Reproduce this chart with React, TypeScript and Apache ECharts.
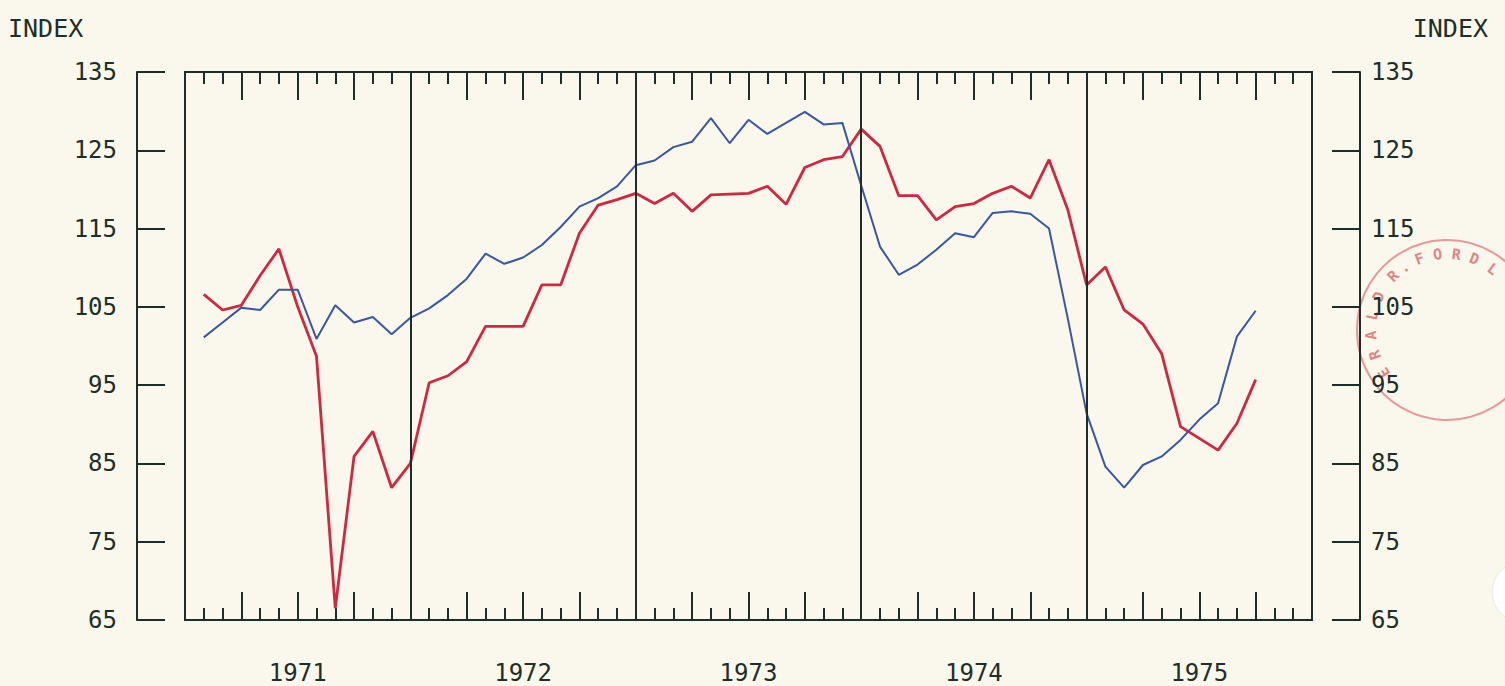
import React, { useEffect, useRef } from "react";
import * as echarts from "echarts";

// Month index (end of month, 1 = Jan 1971 … 57 = Sep 1975)
const monthIndex = Array.from({ length: 57 }, (_, i) => i + 1);

const redSeries = [
  106.6, 104.6, 105.2, 109.0, 112.4, 105.0, 98.7, 66.5, 85.9, 89.1, 81.9, 85.0,
  95.3, 96.2, 98.0, 102.5, 102.5, 102.5, 107.8, 107.8, 114.4, 118.0, 118.7, 119.5,
  118.2, 119.5, 117.2, 119.3, 119.4, 119.5, 120.4, 118.1, 122.8, 123.8, 124.2, 127.7,
  125.5, 119.2, 119.2, 116.1, 117.8, 118.2, 119.5, 120.4, 118.9, 123.8, 117.4, 107.8,
  110.1, 104.6, 102.8, 99.0, 89.7, 88.2, 86.7, 90.1, 95.7,
];

const blueSeries = [
  101.1, 103.0, 104.9, 104.6, 107.2, 107.2, 100.9, 105.2, 103.0, 103.7, 101.5, 103.6,
  104.8, 106.5, 108.6, 111.8, 110.5, 111.3, 112.9, 115.2, 117.8, 118.9, 120.4, 123.1,
  123.7, 125.4, 126.1, 129.1, 125.9, 128.9, 127.1, 128.5, 129.9, 128.3, 128.5, 120.5,
  112.7, 109.1, 110.4, 112.3, 114.4, 113.9, 117.0, 117.2, 116.9, 115.0, 103.5, 91.4,
  84.6, 81.9, 84.8, 85.9, 88.0, 90.6, 92.7, 101.2, 104.5,
];

const yearLabels = ["1971", "1972", "1973", "1974", "1975"];
const yearLabelPositions = [6, 18, 30, 42, 54];
const yearBoundaries = [12, 24, 36, 48];
const yTicks = [65, 75, 85, 95, 105, 115, 125, 135];
// Visible part of the archive stamp
const stampText = "ERALD R. FORD L";
const stampAngles = [236, 251, 266, 281, 296, 306, 315, 326, 332, 339, 353, 367, 381, 392, 37];

const BG = "#faf8ec";
const AXIS = "#1c2d2a";
const TEXT = "#1e2e2b";
const RED = "#d3263f";
const BLUE = "#3b55a6";
const FONT = "DejaVu Sans Mono";

export default function App() {
  const ref = useRef<HTMLDivElement>(null);

  useEffect(() => {
    if (!ref.current) return;
    const chart = echarts.init(ref.current, null, { renderer: "svg" });

    const tickStyle = { color: AXIS, width: 2 };
    const xAxisBase = {
      type: "value",
      min: 0,
      max: 60,
      interval: 3,
      axisLine: { show: true, onZero: false, lineStyle: tickStyle },
      axisTick: { show: true, inside: true, length: 28, lineStyle: tickStyle },
      minorTick: { show: true, splitNumber: 3, length: 12, lineStyle: tickStyle },
      splitLine: { show: false },
    };

    const yAxisBase = {
      type: "value",
      min: 65,
      max: 135,
      offset: 48,
      axisLine: { show: true, onZero: false, lineStyle: tickStyle },
      axisTick: { show: true, inside: true, length: 28, customValues: yTicks, lineStyle: tickStyle },
      splitLine: { show: false },
    };

    const cx = 1447;
    const cy = 330;
    const stampLetters = stampText.split("").map((ch, i) => {
      const a = (stampAngles[i] * Math.PI) / 180;
      return {
        type: "text",
        x: cx + 76 * Math.sin(a),
        y: cy - 76 * Math.cos(a),
        rotation: -a,
        style: {
          text: ch,
          fill: "rgba(222,90,100,0.75)",
          font: `bold 15px ${FONT}`,
          align: "center",
          verticalAlign: "middle",
        },
        silent: true,
      };
    });

    chart.setOption({
      animation: false,
      backgroundColor: BG,
      grid: {
        left: 185,
        right: 193,
        top: 72,
        bottom: 66,
        show: true,
        borderColor: AXIS,
        borderWidth: 2,
        backgroundColor: "transparent",
      },
      xAxis: [
        {
          ...xAxisBase,
          position: "bottom",
          axisLabel: {
            show: true,
            customValues: yearLabelPositions,
            formatter: (v: number) => yearLabels[yearLabelPositions.indexOf(v)] ?? "",
            margin: 41,
            fontSize: 24,
            lineHeight: 24,
            fontFamily: FONT,
            color: TEXT,
          },
        },
        {
          ...xAxisBase,
          position: "top",
          axisLabel: { show: false },
        },
      ],
      yAxis: [
        {
          ...yAxisBase,
          position: "left",
          axisLabel: {
            customValues: yTicks,
            margin: 20,
            fontSize: 24,
            fontFamily: FONT,
            color: TEXT,
          },
        },
        {
          ...yAxisBase,
          position: "right",
          axisLabel: {
            customValues: yTicks,
            margin: 11,
            fontSize: 24,
            fontFamily: FONT,
            color: TEXT,
          },
        },
      ],
      series: [
        {
          type: "line",
          name: "red",
          data: monthIndex.map((m, i) => [m, redSeries[i]]),
          showSymbol: false,
          lineStyle: { color: RED, width: 2.8 },
          itemStyle: { color: RED },
          emphasis: { disabled: true },
          z: 3,
          markLine: {
            silent: true,
            symbol: "none",
            label: { show: false },
            emphasis: { disabled: true },
            lineStyle: { color: AXIS, width: 2, type: "solid" },
            data: yearBoundaries.map((x) => ({ xAxis: x })),
          },
        },
        {
          type: "line",
          name: "blue",
          data: monthIndex.map((m, i) => [m, blueSeries[i]]),
          showSymbol: false,
          lineStyle: { color: BLUE, width: 2 },
          itemStyle: { color: BLUE },
          emphasis: { disabled: true },
          z: 4,
        },
      ],
      graphic: [
        {
          type: "circle",
          shape: { cx, cy, r: 90 },
          style: { fill: "none", stroke: "rgba(226,110,118,0.7)", lineWidth: 2 },
          silent: true,
          z: -1,
        },
        ...stampLetters,
        {
          type: "circle",
          shape: { cx: 1522, cy: 592, r: 30 },
          style: { fill: "#ffffff", stroke: "#e8e8e2", lineWidth: 1 },
          silent: true,
        },
        {
          type: "text",
          x: 8,
          y: 28,
          style: {
            text: "INDEX",
            font: `25px ${FONT}`,
            fill: TEXT,
            align: "left",
            verticalAlign: "middle",
          },
        },
        {
          type: "text",
          x: 1488,
          y: 28,
          style: {
            text: "INDEX",
            font: `25px ${FONT}`,
            fill: TEXT,
            align: "right",
            verticalAlign: "middle",
          },
        },
      ],
    });

    return () => {
      chart.dispose();
    };
  }, []);

  return (
    <div
      ref={ref}
      style={{ position: "fixed", left: 0, top: 0, width: 1505, height: 686, background: BG }}
    />
  );
}
